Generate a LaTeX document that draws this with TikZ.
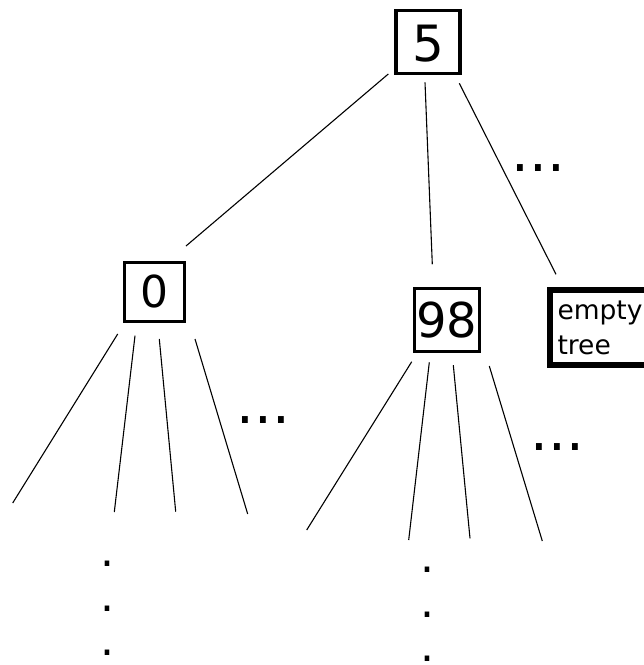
\documentclass[tikz,border=0pt]{standalone}
\usepackage{fontspec}
\setmainfont{DejaVu Sans}
\usetikzlibrary{calc}
\begin{document}
\begin{tikzpicture}[x=1pt,y=-1pt,
  box/.style={draw, rectangle, line width=3.3pt, inner sep=0pt, outer sep=0pt},
  edge/.style={line width=1.1pt},
  hdots/.style={inner sep=0pt, outer sep=0pt, font=\fontsize{56}{56}\selectfont},
  vdots/.style={inner sep=0pt, outer sep=0pt, align=center, font=\fontsize{44}{44.3}\selectfont}]
\clip (0,0) rectangle (644,665);

% tree nodes
\node[box, minimum width=64pt, minimum height=63pt, font=\fontsize{50}{50}\selectfont,
      text height=41pt, text depth=0.7pt] (n5) at (428,41.7) {5};
\node[box, minimum width=60pt, minimum height=59pt, font=\fontsize{44}{44}\selectfont] (n0) at (154.3,291.8) {0};
\node[box, minimum width=64.7pt, minimum height=62.7pt, font=\fontsize{48}{48}\selectfont] (n98) at (447,320) {98};
\node[draw, rectangle, line width=6pt, outer sep=0pt, anchor=north west, text width=100pt,
      inner xsep=7.2pt, inner ysep=0pt, minimum height=75pt, align=left,
      font=\fontsize{26.5}{34.4}\selectfont] (nempty) at (550.3,290.3) {empty\\tree};

% edges from the root
\draw[edge] ($(n5.south west)+(-7.7,0.8)$) -- ($(n0.north east)+(1.7,-16.3)$);
\draw[edge] ($(n5.south)+(-3,9.1)$) -- ($(n98.north)+(-14.7,-24.4)$);
\draw[edge] ($(n5.south east)+(-0.7,10.1)$) -- ($(nempty.north west)+(5.7,-16)$);

% open ends of the subtrees
\coordinate (a1) at (12.7,503);
\coordinate (a2) at (114.3,512);
\coordinate (a3) at (175.7,511.7);
\coordinate (a4) at (247.7,514);
\coordinate (b1) at (306.7,530);
\coordinate (b2) at (408.7,540);
\coordinate (b3) at (470,538.3);
\coordinate (b4) at (542.3,541);

\draw[edge] ($(n0.south)+(-36.6,12.7)$) -- (a1);
\draw[edge] ($(n0.south)+(-19.3,14.4)$) -- (a2);
\draw[edge] ($(n0.south)+(5,17.7)$) -- (a3);
\draw[edge] ($(n0.south)+(40.7,17.7)$) -- (a4);

\draw[edge] ($(n98.south)+(-35.3,10.4)$) -- (b1);
\draw[edge] ($(n98.south)+(-17.7,11)$) -- (b2);
\draw[edge] ($(n98.south)+(6.3,13.7)$) -- (b3);
\draw[edge] ($(n98.south)+(42.3,14.7)$) -- (b4);

% ellipses
\node[hdots] (d5) at (538.5,167.7) {...};
\node[hdots] (d0) at (263.5,420) {...};
\node[hdots] (d98) at (557.5,446.7) {...};
\node[vdots] (v0) at (107,608.5) {.\\.\\.};
\node[vdots] (v98) at (427.8,614.3) {.\\.\\.};
\end{tikzpicture}
\end{document}
